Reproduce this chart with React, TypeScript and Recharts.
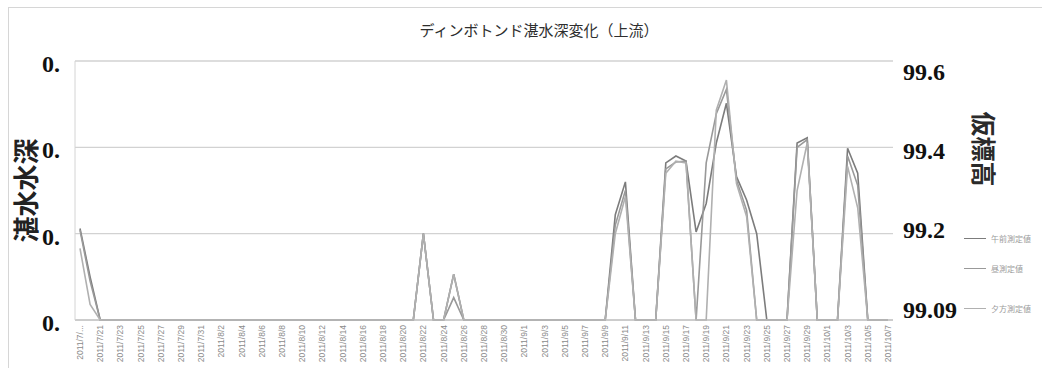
import React from 'react';
import { LineChart, Line, XAxis, YAxis, CartesianGrid, Legend } from 'recharts';

// 観測日 (2011/7/19 - 2011/10/7)
const dates = [
  '2011/7/19', '2011/7/20', '2011/7/21', '2011/7/22', '2011/7/23', '2011/7/24', '2011/7/25', '2011/7/26',
  '2011/7/27', '2011/7/28', '2011/7/29', '2011/7/30', '2011/7/31',
  '2011/8/1', '2011/8/2', '2011/8/3', '2011/8/4', '2011/8/5', '2011/8/6', '2011/8/7', '2011/8/8',
  '2011/8/9', '2011/8/10', '2011/8/11', '2011/8/12', '2011/8/13', '2011/8/14', '2011/8/15', '2011/8/16',
  '2011/8/17', '2011/8/18', '2011/8/19', '2011/8/20', '2011/8/21', '2011/8/22', '2011/8/23', '2011/8/24',
  '2011/8/25', '2011/8/26', '2011/8/27', '2011/8/28', '2011/8/29', '2011/8/30', '2011/8/31',
  '2011/9/1', '2011/9/2', '2011/9/3', '2011/9/4', '2011/9/5', '2011/9/6', '2011/9/7', '2011/9/8',
  '2011/9/9', '2011/9/10', '2011/9/11', '2011/9/12', '2011/9/13', '2011/9/14', '2011/9/15', '2011/9/16',
  '2011/9/17', '2011/9/18', '2011/9/19', '2011/9/20', '2011/9/21', '2011/9/22', '2011/9/23', '2011/9/24',
  '2011/9/25', '2011/9/26', '2011/9/27', '2011/9/28', '2011/9/29', '2011/9/30',
  '2011/10/1', '2011/10/2', '2011/10/3', '2011/10/4', '2011/10/5', '2011/10/6', '2011/10/7',
];

// 湛水深 (m)
const morning = [
  0.106, 0.05, 0, 0, 0, 0, 0, 0, 0, 0,
  0, 0, 0, 0, 0, 0, 0, 0, 0, 0,
  0, 0, 0, 0, 0, 0, 0, 0, 0, 0,
  0, 0, 0, 0, 0.1, 0, 0, 0.053, 0, 0,
  0, 0, 0, 0, 0, 0, 0, 0, 0, 0,
  0, 0, 0, 0.122, 0.16, 0, 0, 0, 0.182, 0.19,
  0.184, 0.102, 0.135, 0.205, 0.251, 0.166, 0.139, 0.1, 0, 0,
  0, 0.205, 0.211, 0, 0, 0, 0.199, 0.17, 0, 0,
  0,
];

const noon = [
  0.104, 0.045, 0, 0, 0, 0, 0, 0, 0, 0,
  0, 0, 0, 0, 0, 0, 0, 0, 0, 0,
  0, 0, 0, 0, 0, 0, 0, 0, 0, 0,
  0, 0, 0, 0, 0.1, 0, 0, 0.026, 0, 0,
  0, 0, 0, 0, 0, 0, 0, 0, 0, 0,
  0, 0, 0, 0.11, 0.15, 0, 0, 0, 0.175, 0.183,
  0.184, 0, 0.182, 0.239, 0.267, 0.162, 0.127, 0, 0, 0,
  0, 0.2, 0.209, 0, 0, 0, 0.19, 0.156, 0, 0,
  0,
];

const evening = [
  0.083, 0.018, 0, 0, 0, 0, 0, 0, 0, 0,
  0, 0, 0, 0, 0, 0, 0, 0, 0, 0,
  0, 0, 0, 0, 0, 0, 0, 0, 0, 0,
  0, 0, 0, 0, 0.1, 0, 0, 0.053, 0, 0,
  0, 0, 0, 0, 0, 0, 0, 0, 0, 0,
  0, 0, 0, 0.1, 0.143, 0, 0, 0, 0.17, 0.184,
  0.182, 0, 0, 0.243, 0.278, 0.158, 0.12, 0, 0, 0,
  0, 0.15, 0.205, 0, 0, 0, 0.178, 0.13, 0, 0,
  0,
];

const depthTicks = [0, 0.1, 0.2, 0.3];
const elevationTicks = [0, 1, 2, 3];
const elevationLabels = ['99.09', '99.2', '99.4', '99.6'];

const series = [
  { key: 'morning', name: '午前測定値', color: '#7c7c7c' },
  { key: 'noon', name: '昼測定値', color: '#999999' },
  { key: 'evening', name: '夕方測定値', color: '#b0b0b0' },
];

const data = dates.map((date, i) => ({
  date,
  morning: morning[i],
  noon: noon[i],
  evening: evening[i],
}));

const W = 1042;
const H = 372;
const tickFont = '"Liberation Serif", "Times New Roman", serif';
const cjkFont = '"Noto Sans CJK JP", sans-serif';

const DateTick = (props: any) => {
  const { x, y, payload, index } = props;
  const ty = y + 5;
  return (
    <text
      x={x}
      y={ty}
      transform={`rotate(-90, ${x}, ${ty})`}
      textAnchor="end"
      dominantBaseline="central"
      fontSize={8.5}
      fontFamily='"Liberation Sans", sans-serif'
      fill="#8a8a8a"
    >
      {index === 0 ? '2011/7/...' : payload.value}
    </text>
  );
};

const DepthTick = (props: any) => {
  const { x, y } = props;
  return (
    <text x={x - 15} y={y + 3} textAnchor="end" dominantBaseline="central"
      fontSize={24} fontWeight="bold" fontFamily={tickFont} fill="#111">
      0.
    </text>
  );
};

const ElevationTick = (props: any) => {
  const { x, y, payload } = props;
  return (
    <text x={x + 10} y={y} textAnchor="start" dominantBaseline="central"
      fontSize={24} fontWeight="bold" fontFamily={tickFont} fill="#111">
      {elevationLabels[elevationTicks.indexOf(payload.value)]}
    </text>
  );
};

const DepthTitle = (props: any) => {
  const { x, y, height } = props.viewBox;
  const cx = x + 9;
  const cy = y + height / 2;
  return (
    <text x={cx} y={cy} transform={`rotate(-90, ${cx}, ${cy})`} textAnchor="middle"
      dominantBaseline="central" fontSize={26} fontWeight="bold" fontFamily={cjkFont} fill="#222">
      湛水水深
    </text>
  );
};

const ElevationTitle = (props: any) => {
  const { x, y } = props.viewBox;
  const cx = x + 92;
  const cy = y + 88;
  return (
    <text x={cx} y={cy} transform={`rotate(90, ${cx}, ${cy})`} textAnchor="middle"
      dominantBaseline="central" fontSize={25} fontWeight="bold" fontFamily={cjkFont} fill="#2a2a2a">
      仮標高
    </text>
  );
};

const legendRows = [0, 30, 70];

// 凡例は系列の定義順で並べる
const LegendBox = () => (
  <div style={{ position: 'relative', width: 80, height: 90 }}>
    {series.map((s, i) => (
      <div key={s.key} style={{
        position: 'absolute', left: 0, top: legendRows[i], height: 12,
        display: 'flex', alignItems: 'center', whiteSpace: 'nowrap',
        fontSize: 8, fontFamily: cjkFont, color: '#9a9a9a',
      }}>
        <span style={{ display: 'inline-block', width: 22, borderTop: `1.5px solid ${s.color}`, marginRight: 5 }} />
        {s.name}
      </div>
    ))}
  </div>
);

export default function App() {
  return (
    <div style={{ position: 'absolute', left: 0, top: 0, width: W, height: H, background: '#fff', overflow: 'hidden' }}>
      <div style={{
        position: 'absolute', left: 8, top: 7, width: W - 8, height: H - 12,
        borderTop: '1px solid #d6d6d6', borderLeft: '1px solid #d6d6d6',
      }} />
      <div style={{
        position: 'absolute', left: 0, width: W, top: 19, textAlign: 'center', paddingLeft: 36,
        boxSizing: 'border-box', fontSize: 15, fontFamily: cjkFont, color: '#2e2e2e',
      }}>
        ディンボトンド湛水深変化（上流）
      </div>
      <LineChart width={W} height={H} data={data} margin={{ top: 61, right: 29, bottom: 0, left: 15 }}>
        <CartesianGrid yAxisId="depth" vertical={false} stroke="#d2d2d2" strokeWidth={1.4} />
        <XAxis
          dataKey="date"
          interval={1}
          height={52}
          padding={{ left: 5, right: 5 }}
          tickLine={false}
          tickSize={0}
          tickMargin={0}
          axisLine={{ stroke: '#bcbcbc' }}
          tick={<DateTick />}
        />
        <YAxis
          yAxisId="depth"
          orientation="left"
          width={60}
          domain={[0, 0.3]}
          ticks={depthTicks}
          tickLine={false}
          tickSize={0}
          tickMargin={0}
          axisLine={{ stroke: '#d4d4d4' }}
          tick={<DepthTick />}
          label={(p: any) => <DepthTitle {...p} />}
        />
        <YAxis
          yAxisId="elev"
          orientation="right"
          width={120}
          domain={[-0.13, 3.14]}
          ticks={elevationTicks}
          allowDataOverflow
          tickLine={false}
          tickSize={0}
          tickMargin={0}
          axisLine={false}
          tick={<ElevationTick />}
          label={(p: any) => <ElevationTitle {...p} />}
        />
        <Legend
          layout="horizontal"
          verticalAlign="middle"
          align="center"
          content={<LegendBox />}
          wrapperStyle={{ position: 'absolute', left: 964, top: 232, width: 80 }}
        />
        {series.map(s => (
          <Line
            key={s.key}
            yAxisId="depth"
            type="linear"
            dataKey={s.key}
            name={s.name}
            stroke={s.color}
            strokeWidth={1.6}
            dot={false}
            activeDot={false}
            isAnimationActive={false}
          />
        ))}
      </LineChart>
    </div>
  );
}
